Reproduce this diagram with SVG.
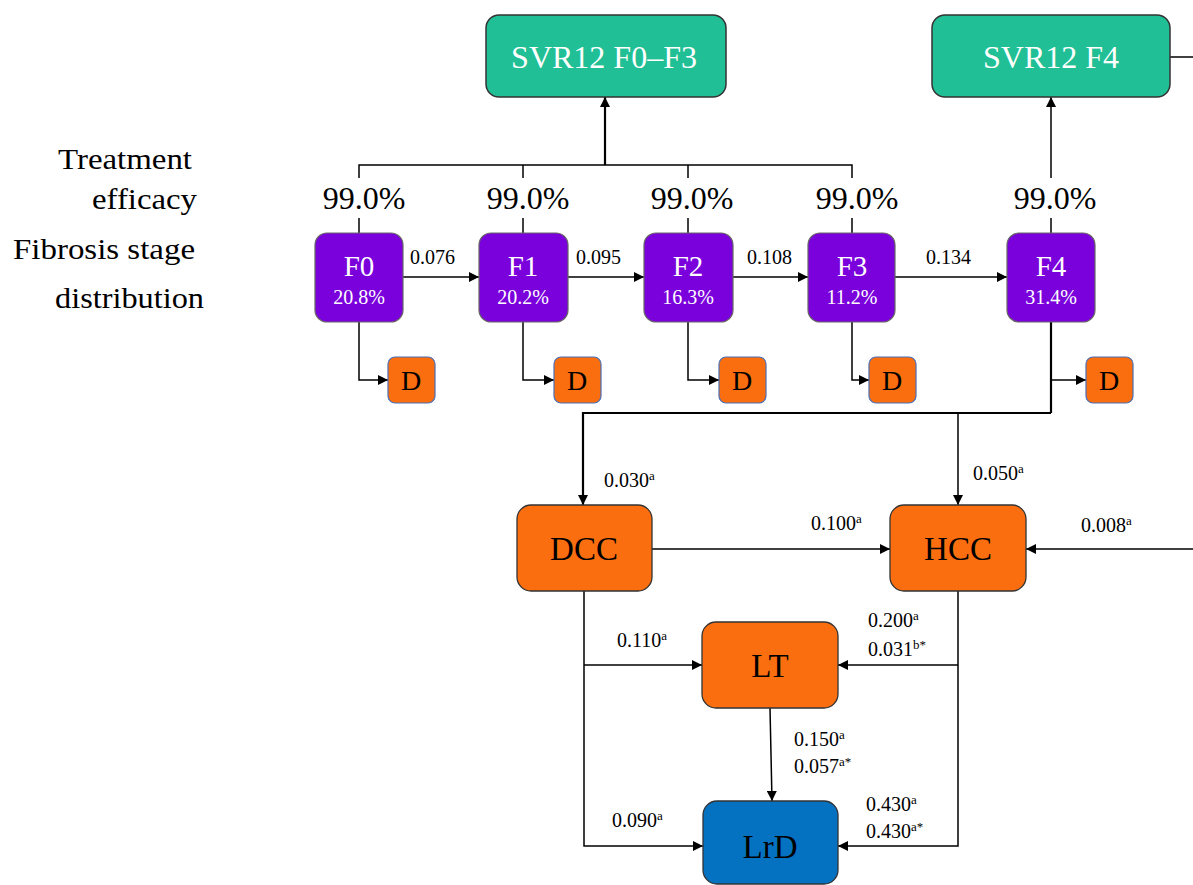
<svg xmlns="http://www.w3.org/2000/svg" width="1193" height="885" viewBox="0 0 1193 885" font-family="'Liberation Serif', 'Times New Roman', serif">
<style>
.svr rect{fill:#21BF95;stroke:#333;stroke-width:1.5;}
.fs rect{fill:#7A00DC;stroke:#666;stroke-width:1.2;}
.d rect{fill:#FA6E0F;stroke:#4a6fb5;stroke-width:1.2;}
.or rect{fill:#FA6E0F;stroke:#333;stroke-width:1.3;}
.bl rect{fill:#0571C1;stroke:#333;stroke-width:1.3;}
#connectors path{fill:none;stroke:#000;stroke-width:1.5;}
#connectors path.th{stroke-width:2.2;}
#connectors path.a{marker-end:url(#ah);}
</style>
<defs>
<marker id="ah" viewBox="0 0 10 10" refX="10" refY="5" markerWidth="11" markerHeight="10" markerUnits="userSpaceOnUse" orient="auto"><path d="M0,0 L10,5 L0,10 z" fill="#000"/></marker>
</defs>
<rect width="1193" height="885" fill="#fff"/>

<g id="labels" fill="#000" font-family="'Liberation Serif', 'Times New Roman', serif">
<g font-size="30">
<text x="58" y="169" textLength="134" lengthAdjust="spacingAndGlyphs">Treatment</text>
<text x="92" y="209" textLength="105" lengthAdjust="spacingAndGlyphs">efficacy</text>
<text x="13" y="259" textLength="182" lengthAdjust="spacingAndGlyphs">Fibrosis stage</text>
<text x="55" y="308" textLength="149" lengthAdjust="spacingAndGlyphs">distribution</text>
</g>
<g font-size="32" text-anchor="middle">
<text x="364" y="209">99.0%</text>
<text x="528" y="209">99.0%</text>
<text x="692" y="209">99.0%</text>
<text x="857" y="209">99.0%</text>
<text x="1055" y="209">99.0%</text>
</g>
</g>

<g id="connectors">
<path d="M359,178 V165 H852 V178"/>
<path d="M523,165 V178"/>
<path d="M688,165 V178"/>
<path class="th a" d="M605,165 V97"/>
<path class="a" d="M1051,178 V97"/>
<path d="M1170,57 H1193"/>
<path d="M359,218 V233"/>
<path d="M523,218 V233"/>
<path d="M688,218 V233"/>
<path d="M852,218 V233"/>
<path d="M1051,218 V233"/>
<path class="a" d="M402,277 H479"/>
<path class="a" d="M568,277 H644"/>
<path class="a" d="M733,277 H808"/>
<path class="a" d="M895,277 H1007"/>
<path class="a" d="M359,322 V380 H388"/>
<path class="a" d="M523,322 V380 H554"/>
<path class="a" d="M688,322 V380 H719"/>
<path class="a" d="M852,322 V380 H869"/>
<path class="th" d="M1051,322 V413"/>
<path class="a" d="M1051,380 H1086"/>
<path class="th a" d="M1051,413 H583 V505"/>
<path class="a" d="M958,413 V505"/>
<path class="a" d="M652,549 H890"/>
<path class="a" d="M1193,549 H1026"/>
<path class="a" d="M584,591 V846 H703"/>
<path class="a" d="M584,665 H702"/>
<path class="a" d="M958,591 V846 H838"/>
<path class="a" d="M958,665 H838"/>
<path class="a" d="M770,708 L772,801"/>
<g font-family="'Liberation Serif', 'Times New Roman', serif" font-size="20" fill="#000">
<text x="410" y="264">0.076</text>
<text x="576" y="264">0.095</text>
<text x="747" y="264">0.108</text>
<text x="926" y="264">0.134</text>
<text x="604" y="487">0.030<tspan font-size="13" dy="-7">a</tspan></text>
<text x="973" y="480">0.050<tspan font-size="13" dy="-7">a</tspan></text>
<text x="811" y="530">0.100<tspan font-size="13" dy="-7">a</tspan></text>
<text x="1081" y="532">0.008<tspan font-size="13" dy="-7">a</tspan></text>
<text x="617" y="647">0.110<tspan font-size="13" dy="-7">a</tspan></text>
<text x="868" y="627">0.200<tspan font-size="13" dy="-7">a</tspan></text>
<text x="868" y="656">0.031<tspan font-size="13" dy="-7">b*</tspan></text>
<text x="794" y="746">0.150<tspan font-size="13" dy="-7">a</tspan></text>
<text x="794" y="773">0.057<tspan font-size="13" dy="-7">a*</tspan></text>
<text x="612" y="827">0.090<tspan font-size="13" dy="-7">a</tspan></text>
<text x="866" y="811">0.430<tspan font-size="13" dy="-7">a</tspan></text>
<text x="866" y="838">0.430<tspan font-size="13" dy="-7">a*</tspan></text>
</g>
</g>

<g id="svr-f0f3" class="svr"><rect x="486" y="15" width="240" height="82" rx="13"/><text x="604" y="68" font-family="'Liberation Serif', 'Times New Roman', serif" font-size="32" fill="#fff" text-anchor="middle">SVR12  F0–F3</text></g>
<g id="svr-f4" class="svr"><rect x="932" y="15" width="238" height="82" rx="13"/><text x="1051" y="68" font-family="'Liberation Serif', 'Times New Roman', serif" font-size="32" fill="#fff" text-anchor="middle">SVR12  F4</text></g>

<g font-family="'Liberation Serif', 'Times New Roman', serif" fill="#fff" text-anchor="middle">
<g id="f0" class="fs"><rect x="315" y="233" width="88" height="89" rx="12"/><text font-size="29" x="359" y="276">F0</text><text font-size="20" x="359" y="304">20.8%</text></g>
<g id="f1" class="fs"><rect x="479" y="233" width="89" height="89" rx="12"/><text font-size="29" x="523" y="276">F1</text><text font-size="20" x="523" y="304">20.2%</text></g>
<g id="f2" class="fs"><rect x="644" y="233" width="89" height="89" rx="12"/><text font-size="29" x="688" y="276">F2</text><text font-size="20" x="688" y="304">16.3%</text></g>
<g id="f3" class="fs"><rect x="808" y="233" width="87" height="89" rx="12"/><text font-size="29" x="852" y="276">F3</text><text font-size="20" x="852" y="304">11.2%</text></g>
<g id="f4" class="fs"><rect x="1007" y="233" width="88" height="89" rx="12"/><text font-size="29" x="1051" y="276">F4</text><text font-size="20" x="1051" y="304">31.4%</text></g>
</g>

<g font-family="'Liberation Serif', 'Times New Roman', serif" fill="#000" font-size="28" text-anchor="middle">
<g id="d0" class="d"><rect x="388" y="357" width="47" height="46" rx="7"/><text x="411" y="390">D</text></g>
<g id="d1" class="d"><rect x="554" y="357" width="47" height="46" rx="7"/><text x="577" y="390">D</text></g>
<g id="d2" class="d"><rect x="719" y="357" width="47" height="46" rx="7"/><text x="742" y="390">D</text></g>
<g id="d3" class="d"><rect x="869" y="357" width="47" height="46" rx="7"/><text x="892" y="390">D</text></g>
<g id="d4" class="d"><rect x="1086" y="357" width="47" height="46" rx="7"/><text x="1109" y="390">D</text></g>
</g>

<g font-family="'Liberation Serif', 'Times New Roman', serif" fill="#000" font-size="33" text-anchor="middle">
<g id="dcc" class="or"><rect x="517" y="505" width="135" height="86" rx="14"/><text x="584" y="560">DCC</text></g>
<g id="hcc" class="or"><rect x="890" y="505" width="136" height="86" rx="14"/><text x="958" y="560">HCC</text></g>
<g id="lt" class="or"><rect x="702" y="622" width="136" height="86" rx="14"/><text x="770" y="677">LT</text></g>
<g id="lrd" class="bl"><rect x="703" y="801" width="135" height="83" rx="14"/><text x="770" y="858">LrD</text></g>
</g>
</svg>
